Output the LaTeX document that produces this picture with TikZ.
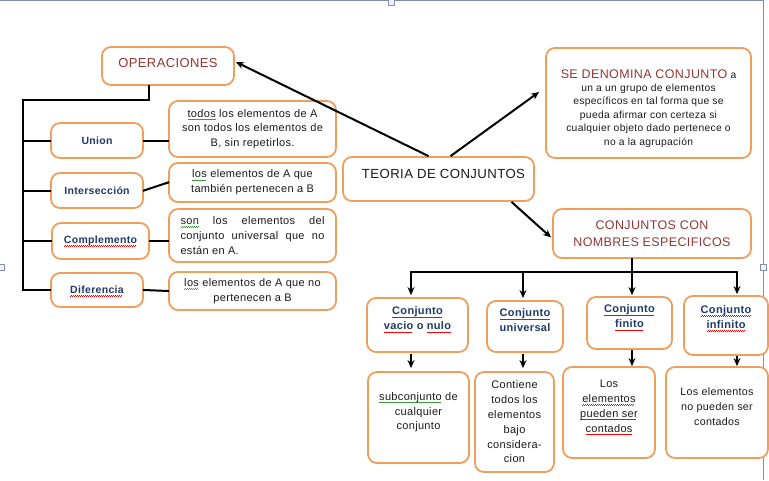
\documentclass[tikz,border=0pt]{standalone}
\usepackage{fontspec}
\setmainfont{Liberation Sans}[LetterSpace=3]
\usetikzlibrary{arrows.meta,calc}
\definecolor{orng}{HTML}{EF9E5C}
\definecolor{navy}{HTML}{1F3A68}
\definecolor{dred}{HTML}{943634}
\definecolor{txt}{HTML}{1A1A1A}
\definecolor{frm}{HTML}{8090A4}
\definecolor{sqgreen}{HTML}{3A9A3A}
\newcommand\sqline[2]{\setbox0\hbox{#2}\rlap{\color{#1}\raisebox{-2.8pt}[0pt][0pt]{\hbox to\wd0{\leaders\hbox to 2pt{\rule{1pt}{0.6pt}\rule[0.6pt]{1pt}{0.6pt}}\hfill}}}\box0\relax}
\newcommand\rw[1]{\sqline{red}{#1}}
\newcommand\gw[1]{\sqline{sqgreen}{#1}}
\tikzset{
  box/.style={draw=orng, line width=1.8pt, rounded corners=9pt, fill=white, inner sep=2pt,
    align=center, text=txt, font=\fontsize{11}{14.8}\selectfont},
  head/.style={box, text=navy, font=\fontsize{10.5}{13}\selectfont\bfseries},
  headb/.style={box, text=navy, font=\fontsize{11}{15}\selectfont\bfseries},
  title/.style={box, text=dred, font=\fontsize{12.5}{17}\selectfont},
  ln/.style={line width=2pt, black, line cap=rect},
  arr/.style={line width=2pt, black, -{Stealth[length=8pt,width=7pt]}},
  frame/.style={draw=frm, line width=0.8pt},
  handle/.style={draw=frm, fill=blue!6, line width=0.6pt}
}
\begin{document}
\begin{tikzpicture}[x=1pt,y=-1pt]
\useasboundingbox[fill=white] (0,0) rectangle (769,480);
% canvas frame
\draw[frame] (0,0.6) -- (763,0.6) -- (763,480);
\draw[handle] (388,-1) rectangle (394,5);
\draw[handle] (760,264) rectangle (766,270);
\draw[handle] (-1,264) rectangle (4,270);

% left group
\node[title, minimum width=132pt, minimum height=38pt, font=\fontsize{13}{17}\selectfont] (ops) at (168,66) {\raisebox{6pt}{OPERACIONES}};
\node[head, minimum width=92pt, minimum height=35pt] (union) at (97,140.5) {Union};
\node[box, minimum width=167pt, minimum height=56pt] (unionT) at (252.5,129) {\gw{todos} los elementos de A\\ son todos los elementos de\\ B, sin repetirlos.};
\node[head, minimum width=92pt, minimum height=35pt] (inter) at (97,190.5) {Intersección};
\node[box, minimum width=167pt, minimum height=39pt] (interT) at (252.5,182.5) {\gw{los} elementos de A que\\ también pertenecen a B};
\node[head, minimum width=97pt, minimum height=36pt] (comp) at (100.5,241) {\rw{Complemento}};
\node[box, minimum width=167pt, minimum height=53pt, align=left] (compT) at (252.5,235.5) {\makebox[144pt][s]{\gw{son} los elementos del}\\ \makebox[144pt][s]{conjunto universal que no}\\ están en A.};
\node[head, minimum width=92pt, minimum height=34pt] (dif) at (97,290) {\rw{Diferencia}};
\node[box, minimum width=167pt, minimum height=38pt] (difT) at (252.5,291) {\gw{los} elementos de A que no\\ pertenecen a B};

% centre and right
\node[box, minimum width=191pt, minimum height=44pt, font=\fontsize{13.2}{16}\selectfont] (teoria) at (438.5,179) {\raisebox{10pt}{\hspace{10pt}TEORIA DE CONJUNTOS}};
\node[box, minimum width=205pt, minimum height=110pt, font=\fontsize{10.3}{13.4}\selectfont] (seden) at (648.5,103) {\mbox{}\\[6pt]{\fontsize{12.5}{14}\selectfont\color{dred}SE DENOMINA CONJUNTO} a\\ un a un grupo de elementos\\ específicos en tal forma que se\\ pueda afirmar con certeza si\\ cualquier objeto dado pertenece o\\ no a la agrupación};
\node[title, minimum width=198pt, minimum height=49pt] (conjcon) at (652,233.5) {CONJUNTOS CON\\ NOMBRES ESPECIFICOS};

% bottom row
\node[headb, minimum width=101pt, minimum height=54pt] (vac) at (417.5,325) {\rw{Conjunto}\\ \rw{vacio} o \rw{nulo}\\[-2pt]\mbox{}};
\node[headb, minimum width=76pt, minimum height=51pt] (uni) at (525,326.5) {\rw{Conjunto}\\ universal\\[-3pt]\mbox{}};
\node[headb, minimum width=85pt, minimum height=52pt] (fin) at (629.5,323) {\rw{Conjunto}\\ \rw{finito}\\[-2pt]\mbox{}};
\node[headb, minimum width=84pt, minimum height=59pt] (inf) at (726,325.5) {\rw{Conjunto}\\ \rw{infinito}\\[2pt]\mbox{}};

\node[box, minimum width=101pt, minimum height=91pt] (sub) at (418.5,417.5) {\gw{subconjunto} de\\ cualquier\\ conjunto\\[-2pt]\mbox{}};
\node[box, minimum width=79pt, minimum height=100pt] (cont) at (514.5,422) {Contiene\\ todos los\\ elementos\\ bajo\\ considera-\\ cion};
\node[box, minimum width=92pt, minimum height=91pt] (cnt) at (609,412.5) {Los\\ \rw{elementos}\\ \rw{pueden ser}\\ \rw{contados}\\[-2pt]\mbox{}};
\node[box, minimum width=102pt, minimum height=91pt, font=\fontsize{10.7}{15.2}\selectfont] (ncnt) at (717,412.5) {Los elementos\\ no pueden ser\\ contados\\[-4pt]\mbox{}};

% operaciones tree
\coordinate (t1) at (149,100);
\coordinate (t0) at (23,100);
\draw[ln] (ops.south -| t1) -- (t1) -- (t0) |- (dif.west);
\draw[ln] (t0 |- union.west) -- (union.west);
\draw[ln] (t0 |- inter.west) -- (inter.west);
\draw[ln] (t0 |- comp.west) -- (comp.west);
\draw[ln] (union.east) -- (union.east -| unionT.west);
\draw[ln] (inter.east) -- (interT.west);
\draw[ln] (comp.east) -- (comp.east -| compT.west);
\draw[ln] (dif.east) -- (difT.west);

% arrows from teoria
\draw[arr] ($(teoria.north)+(-10,0)$) -- ($(ops.east)+(1,-4)$);
\draw[arr] ($(teoria.north)+(12,0)$) -- ($(seden.west)+(-6,-11)$);
\draw[arr] ($(teoria.south)+(73,0)$) -- ($(conjcon.west)+(-1,4)$);

% conjuntos tree
\coordinate (h1) at (411,272);
\coordinate (h2) at (523,272);
\coordinate (h3) at (632,272);
\coordinate (h4) at (737,272);
\draw[ln] (conjcon.south -| h3) -- (h3);
\draw[ln] (h1) -- (h4);
\draw[arr, shorten >=2pt] (h1) -- (h1 |- vac.north);
\draw[arr, shorten >=2pt] (h2) -- (h2 |- uni.north);
\draw[arr, shorten >=1pt] (h3) -- (h3 |- fin.north);
\draw[arr, shorten >=1pt] (h4) -- (h4 |- inf.north);
\draw[arr, shorten <=1pt, shorten >=3pt] (vac.south -| h1) -- (sub.north -| h1);
\draw[arr, shorten <=1pt, shorten >=3pt] (uni.south -| h2) -- (cont.north -| h2);
\draw[arr, shorten >=0pt] (fin.south -| h3) -- (cnt.north -| h3);
\draw[arr, shorten >=0pt] (inf.south -| h4) -- (ncnt.north -| h4);
\end{tikzpicture}
\end{document}
